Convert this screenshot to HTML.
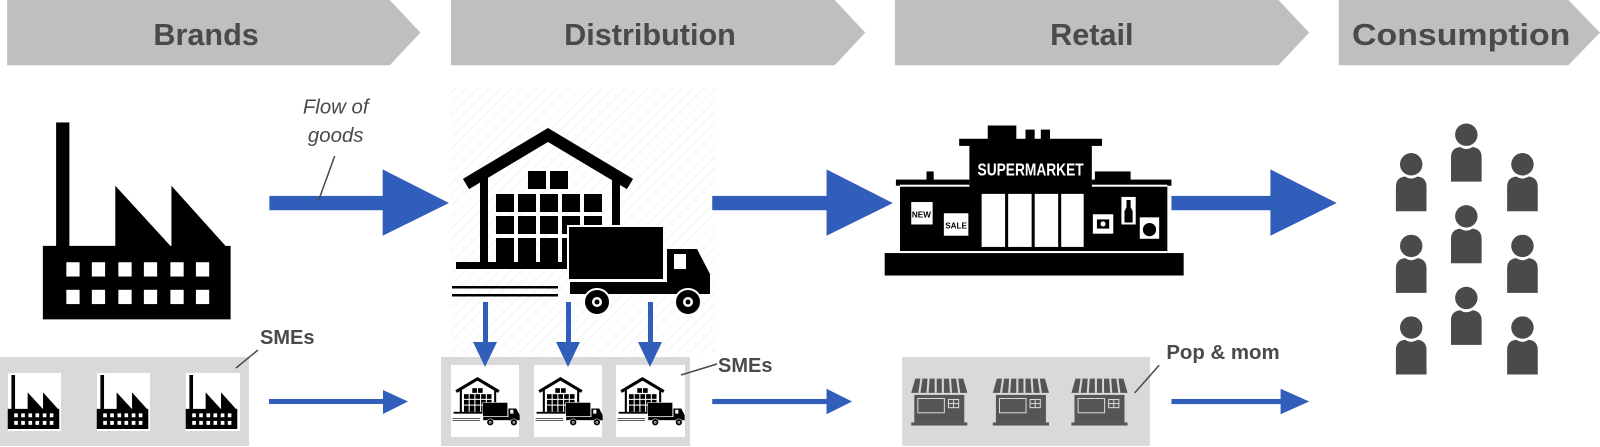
<!DOCTYPE html>
<html><head><meta charset="utf-8"><style>
html,body{margin:0;padding:0;background:#fff;width:1600px;height:447px;overflow:hidden}
svg{display:block}
text{font-family:"Liberation Sans",sans-serif}
</style></head><body>
<svg width="1600" height="447" viewBox="0 0 1600 447" xmlns="http://www.w3.org/2000/svg">
<defs>
<pattern id="hatch" width="8" height="8" patternUnits="userSpaceOnUse" patternTransform="rotate(45)">
<rect width="8" height="8" fill="#fff"/><line x1="0" y1="0" x2="0" y2="8" stroke="#f3f3f3" stroke-width="2"/></pattern>
<g id="factory">
<rect x="55" y="120" width="13" height="125" fill="#000"/>
<path d="M42 241 L113 241 L113 182 L167 241 L168 241 L168 182 L221 241 L226 241 L226 313 L42 313 Z" fill="#000"/>
<g fill="#fff">
<rect x="65" y="257" width="13" height="14"/><rect x="90" y="257" width="13" height="14"/><rect x="116" y="257" width="13" height="14"/><rect x="141" y="257" width="13" height="14"/><rect x="167" y="257" width="13" height="14"/><rect x="192" y="257" width="13" height="14"/>
<rect x="65" y="284" width="13" height="14"/><rect x="90" y="284" width="13" height="14"/><rect x="116" y="284" width="13" height="14"/><rect x="141" y="284" width="13" height="14"/><rect x="167" y="284" width="13" height="14"/><rect x="192" y="284" width="13" height="14"/>
</g></g>
<g id="wh">
<polyline points="466,184 548,135 630,184" fill="none" stroke="#000" stroke-width="12" stroke-linejoin="miter"/>
<rect x="480" y="178" width="8" height="86" fill="#000"/>
<rect x="612" y="178" width="8" height="60" fill="#000"/>
<rect x="456" y="262" width="130" height="7" fill="#000"/>
<g fill="#000">
<rect x="528" y="171" width="18" height="18"/><rect x="550" y="171" width="18" height="18"/>
<rect x="496" y="194" width="18" height="18"/><rect x="518" y="194" width="18" height="18"/><rect x="540" y="194" width="18" height="18"/><rect x="562" y="194" width="18" height="18"/><rect x="584" y="194" width="18" height="18"/>
<rect x="496" y="216" width="18" height="18"/><rect x="518" y="216" width="18" height="18"/><rect x="540" y="216" width="18" height="18"/><rect x="562" y="216" width="18" height="18"/><rect x="584" y="216" width="18" height="18"/>
<rect x="496" y="238" width="18" height="24"/><rect x="518" y="238" width="18" height="24"/><rect x="540" y="238" width="18" height="24"/><rect x="562" y="238" width="10" height="24"/>
</g>
<rect x="568" y="226" width="96" height="54" fill="#000" stroke="#fff" stroke-width="2"/>
<path d="M667 249 L697 249 L710 274 L710 294 L667 294 Z" fill="#000"/>
<rect x="674" y="254" width="12" height="15" fill="#fff"/>
<rect x="570" y="282" width="140" height="12" fill="#000"/>
<circle cx="597" cy="302" r="13" fill="#000" stroke="#fff" stroke-width="2"/><circle cx="597" cy="302" r="5" fill="#fff"/><circle cx="597" cy="302" r="2.5" fill="#000"/>
<circle cx="688" cy="302" r="13" fill="#000" stroke="#fff" stroke-width="2"/><circle cx="688" cy="302" r="5" fill="#fff"/><circle cx="688" cy="302" r="2.5" fill="#000"/>
<rect x="452" y="286" width="106" height="2.5" fill="#000"/><rect x="452" y="294" width="106" height="2.5" fill="#000"/>
</g>
<g id="person" fill="#4a4a4a">
<circle cx="0" cy="11" r="11"/>
<path d="M-15 57 L-15 33 Q-15 24 -6 23 Q0 27 6 23 Q15 24 15 33 L15 57 Z"/>
</g>
<g id="shop">
<path d="M0 14 L4 0 L51 0 L55 14 Z" fill="#555"/>
<g stroke="#d9d9d9" stroke-width="2"><line x1="10" y1="0" x2="8" y2="14"/><line x1="17" y1="0" x2="16" y2="14"/><line x1="24" y1="0" x2="24" y2="14"/><line x1="31" y1="0" x2="31" y2="14"/><line x1="38" y1="0" x2="39" y2="14"/><line x1="45" y1="0" x2="47" y2="14"/></g>
<rect x="3" y="16" width="49" height="27" fill="#555"/>
<rect x="6" y="19" width="27" height="15" fill="#d9d9d9"/><rect x="7" y="20" width="25" height="13" fill="#555"/>
<rect x="36" y="20" width="11" height="9" fill="#d9d9d9"/><rect x="37" y="21" width="4" height="3" fill="#555"/><rect x="42" y="21" width="4" height="3" fill="#555"/><rect x="37" y="25" width="4" height="3" fill="#555"/><rect x="42" y="25" width="4" height="3" fill="#555"/>
<rect x="0" y="43" width="55" height="3" fill="#555"/>
</g>
</defs>

<rect x="451" y="88" width="265" height="265" fill="url(#hatch)"/>

<g transform="scale(1.0204)">
<g fill="#bfbfbf">
<path d="M7 0 L382 0 L412 32 L382 64 L7 64 Z"/>
<path d="M442 0 L818 0 L848 32 L818 64 L442 64 Z"/>
<path d="M877 0 L1253 0 L1283 32 L1253 64 L877 64 Z"/>
<path d="M1312 0 L1537 0 L1568 32 L1537 64 L1312 64 Z"/>
</g>
<g font-size="30" font-weight="bold" fill="#4a4a4a" text-anchor="middle">
<text x="202" y="44">Brands</text>
<text x="637" y="44">Distribution</text>
<text x="1070" y="44">Retail</text>
<text x="1432" y="44" textLength="214" lengthAdjust="spacingAndGlyphs">Consumption</text>
</g>

<use href="#factory"/>

<g fill="#325ebb">
<rect x="264" y="192" width="112" height="14"/><path d="M375 166 L440 199 L375 231 Z"/>
<rect x="698" y="192" width="113" height="14"/><path d="M810 166 L875 199 L810 231 Z"/>
<rect x="1148" y="192" width="98" height="14"/><path d="M1245 166 L1310 199 L1245 231 Z"/>
</g>
<g font-size="20" font-style="italic" fill="#4a4a4a" text-anchor="middle">
<text x="329" y="111">Flow of</text><text x="329" y="139">goods</text>
</g>
<line x1="328" y1="153" x2="312" y2="197" stroke="#4a4a4a" stroke-width="1.5"/>

<g fill="#000">
<rect x="867" y="248" width="293" height="22"/>
<rect x="882" y="180" width="262" height="68"/>
<rect x="878" y="176" width="72" height="6"/><rect x="1070" y="176" width="78" height="6"/>
<rect x="908" y="168" width="7" height="10"/><rect x="1073" y="168" width="35" height="10"/>
<rect x="950" y="140" width="120" height="45"/>
<rect x="940" y="136" width="140" height="7"/>
<rect x="968" y="123" width="28" height="14"/><rect x="1005" y="127" width="9" height="10"/><rect x="1020" y="127" width="9" height="10"/>
</g>
<rect x="882" y="181" width="68" height="2" fill="#fff"/><rect x="1070" y="181" width="74" height="2" fill="#fff"/>
<rect x="882" y="246" width="262" height="2" fill="#fff"/>
<text x="1010" y="172" font-size="17" font-weight="bold" fill="#fff" text-anchor="middle" textLength="104" lengthAdjust="spacingAndGlyphs">SUPERMARKET</text>
<g fill="#fff">
<rect x="962" y="190" width="23" height="52"/><rect x="988" y="190" width="23" height="52"/><rect x="1014" y="190" width="23" height="52"/><rect x="1040" y="190" width="22" height="52"/>
<rect x="893" y="198" width="21" height="22"/><rect x="925" y="209" width="24" height="22"/>
<rect x="1071" y="210" width="20" height="19"/><rect x="1099" y="193" width="14" height="27"/><rect x="1117" y="213" width="19" height="21"/>
</g>
<text x="903" y="213" font-size="8" font-weight="bold" text-anchor="middle" fill="#000">NEW</text>
<text x="937" y="224" font-size="8" font-weight="bold" text-anchor="middle" fill="#000">SALE</text>
<rect x="1075" y="215" width="12" height="9" fill="#000"/><circle cx="1081" cy="219.5" r="2.5" fill="#fff"/>
<path d="M1104 196 L1108 196 L1108 203 L1110 207 L1110 218 L1102 218 L1102 207 L1104 203 Z" fill="#000"/>
<circle cx="1126.5" cy="225" r="6.5" fill="#000"/>

<use href="#person" x="1383" y="150"/><use href="#person" x="1383" y="230"/><use href="#person" x="1383" y="310"/>
<use href="#person" x="1437" y="121"/><use href="#person" x="1437" y="201"/><use href="#person" x="1437" y="281"/>
<use href="#person" x="1492" y="150"/><use href="#person" x="1492" y="230"/><use href="#person" x="1492" y="310"/>

<rect x="884" y="350" width="243" height="87" fill="#d9d9d9"/>
<use href="#shop" x="893" y="371"/><use href="#shop" x="973" y="371"/><use href="#shop" x="1050" y="371"/>
<text x="1143" y="352" font-size="20" font-weight="bold" fill="#4a4a4a">Pop &amp; mom</text>
<line x1="1112" y1="385" x2="1136" y2="358" stroke="#4a4a4a" stroke-width="1.5"/>
<g fill="#325ebb">
<rect x="698" y="391" width="113" height="5"/><path d="M810 381 L835 393.5 L810 406 Z"/>
<rect x="1148" y="391" width="108" height="5"/><path d="M1255 381 L1283 393.5 L1255 406 Z"/>
</g>
</g>

<use href="#wh"/>

<rect x="0" y="357" width="249" height="89" fill="#d9d9d9"/>
<rect x="8" y="373" width="53" height="58" fill="#fff"/>
<rect x="97" y="373" width="53" height="58" fill="#fff"/>
<rect x="186" y="373" width="54" height="58" fill="#fff"/>
<g transform="translate(-4,341.4) scale(0.28)"><use href="#factory"/></g>
<g transform="translate(85,341.4) scale(0.28)"><use href="#factory"/></g>
<g transform="translate(174,341.4) scale(0.28)"><use href="#factory"/></g>
<text x="260" y="344" font-size="20" font-weight="bold" fill="#4a4a4a">SMEs</text>
<line x1="236" y1="368" x2="258" y2="350" stroke="#4a4a4a" stroke-width="1.5"/>
<g fill="#325ebb">
<rect x="269" y="399" width="115" height="5"/><path d="M383 390 L408 401.5 L383 414 Z"/>
</g>

<rect x="441" y="357" width="249" height="89" fill="#d9d9d9"/>
<rect x="451" y="365" width="68" height="72" fill="#fff"/>
<rect x="534" y="365" width="68" height="72" fill="#fff"/>
<rect x="616" y="365" width="69" height="72" fill="#fff"/>
<g transform="translate(452,377) scale(0.26)"><use href="#wh" x="-450" y="-128"/></g>
<g transform="translate(535,377) scale(0.26)"><use href="#wh" x="-450" y="-128"/></g>
<g transform="translate(617,377) scale(0.26)"><use href="#wh" x="-450" y="-128"/></g>
<text x="718" y="372" font-size="20" font-weight="bold" fill="#4a4a4a">SMEs</text>
<line x1="681" y1="375" x2="717" y2="364" stroke="#4a4a4a" stroke-width="1.5"/>
<g fill="#325ebb">
<rect x="483" y="302" width="5" height="42"/><path d="M473 342 L497 342 L485 367 Z"/>
<rect x="566" y="302" width="5" height="42"/><path d="M556 342 L580 342 L568 367 Z"/>
<rect x="648" y="302" width="5" height="42"/><path d="M638 342 L662 342 L650 367 Z"/>
</g>
</svg>
</body></html>
